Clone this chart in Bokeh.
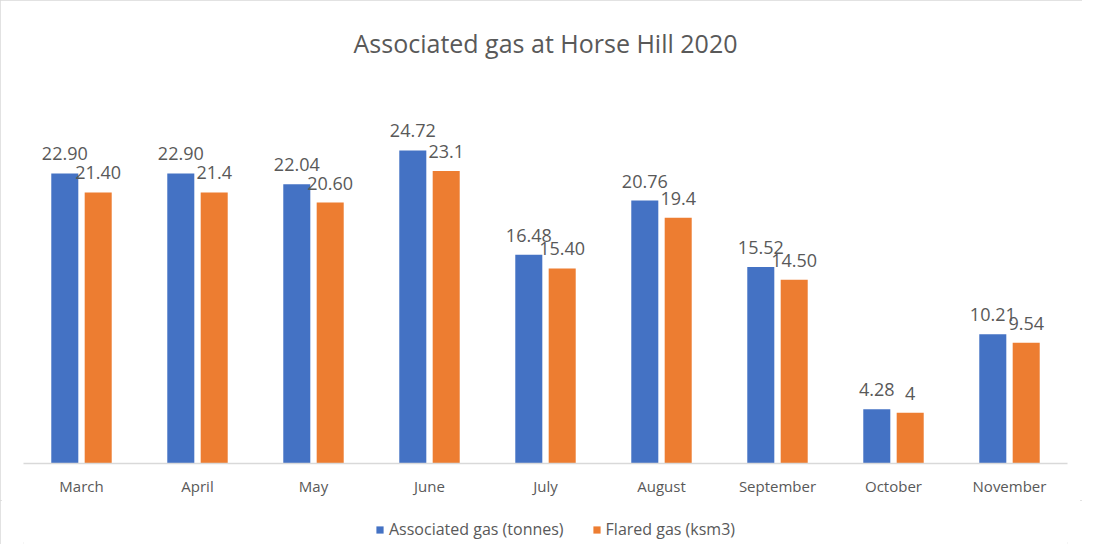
from bokeh.plotting import figure
from bokeh.models import FactorRange, Range1d, Legend, LegendItem, ColumnDataSource
from bokeh.layouts import column
from bokeh.transform import dodge
from bokeh.embed import file_html
from bokeh.resources import INLINE
from bokeh.core.properties import value

months = ["March", "April", "May", "June", "July", "August", "September", "October", "November"]
assoc_gas = [22.90, 22.90, 22.04, 24.72, 16.48, 20.76, 15.52, 4.28, 10.21]
flared_gas = [21.40, 21.4, 20.60, 23.1, 15.40, 19.4, 14.50, 4, 9.54]
assoc_labels = ["22.90", "22.90", "22.04", "24.72", "16.48", "20.76", "15.52", "4.28", "10.21"]
flared_labels = ["21.40", "21.4", "20.60", "23.1", "15.40", "19.4", "14.50", "4", "9.54"]
series_names = ["Associated gas (tonnes)", "Flared gas (ksm3)"]

BLUE = "#4472C4"
ORANGE = "#ED7D31"
TXT = "#595959"
FONT = "Open Sans"

src = ColumnDataSource(dict(month=months, assoc=assoc_gas, flared=flared_gas,
                            al=assoc_labels, fl=flared_labels))

xr = FactorRange(*months)
p = figure(x_range=xr, y_range=Range1d(0, 30),
           width=1082, height=500, output_backend="svg", toolbar_location=None,
           min_border_left=23, min_border_right=15, min_border_top=79, min_border_bottom=37,
           title="Associated gas at Horse Hill 2020")
p.title.align = "center"
p.title.text_font = FONT
p.title.text_font_size = "25px"
p.title.text_font_style = "normal"
p.title.text_color = TXT
p.title.standoff = 47
p.outline_line_color = None
p.grid.visible = False
p.yaxis.visible = False
p.xaxis.axis_line_color = "#D9D9D9"
p.xaxis.axis_line_width = 1.5
p.xaxis.major_tick_line_color = None
p.xaxis.minor_tick_line_color = None
p.xaxis.major_tick_out = 0
p.xaxis.major_label_standoff = 12
p.xaxis.major_label_text_font_size = "15px"
p.xaxis.major_label_text_color = TXT
p.xaxis.major_label_text_font = FONT

off = 0.144
w = 0.233
p.vbar(x=dodge("month", -off, range=xr), top="assoc", width=w, source=src,
       fill_color=BLUE, line_color=None)
p.vbar(x=dodge("month", off, range=xr), top="flared", width=w, source=src,
       fill_color=ORANGE, line_color=None)

p.text(x=dodge("month", -off, range=xr), y="assoc", text="al", source=src,
       text_align="center", text_baseline="bottom", y_offset=-13,
       text_font=value(FONT), text_font_size="18px", text_color=TXT)
p.text(x=dodge("month", off, range=xr), y="flared", text="fl", source=src,
       text_align="center", text_baseline="bottom", y_offset=-13,
       text_font=value(FONT), text_font_size="18px", text_color=TXT)

# legend strip (bars here sit outside the visible y range; only the legend shows)
p2 = figure(x_range=xr, y_range=Range1d(1000, 1001), width=1082, height=44,
            output_backend="svg", toolbar_location=None,
            min_border_left=0, min_border_right=0, min_border_top=0, min_border_bottom=0)
p2.axis.visible = False
p2.grid.visible = False
p2.outline_line_color = None
l1 = p2.vbar(x=dodge("month", -off, range=xr), top="assoc", width=w, source=src,
             fill_color=BLUE, line_color=None)
l2 = p2.vbar(x=dodge("month", off, range=xr), top="flared", width=w, source=src,
             fill_color=ORANGE, line_color=None)
legend = Legend(items=[LegendItem(label=series_names[0], renderers=[l1]),
                       LegendItem(label=series_names[1], renderers=[l2])],
                orientation="horizontal", location=(352, 4), border_line_color=None,
                background_fill_alpha=0, glyph_width=9, glyph_height=9,
                label_text_font_size="16px", label_text_color=TXT, label_text_font=FONT,
                spacing=28, label_standoff=5, margin=0, padding=4)
p2.add_layout(legend)

layout = column(p, p2, spacing=0,
                styles={"outline": "2px solid #D9D9D9", "outline-offset": "-2px"})

open("out.html", "w").write(file_html(layout, INLINE))
